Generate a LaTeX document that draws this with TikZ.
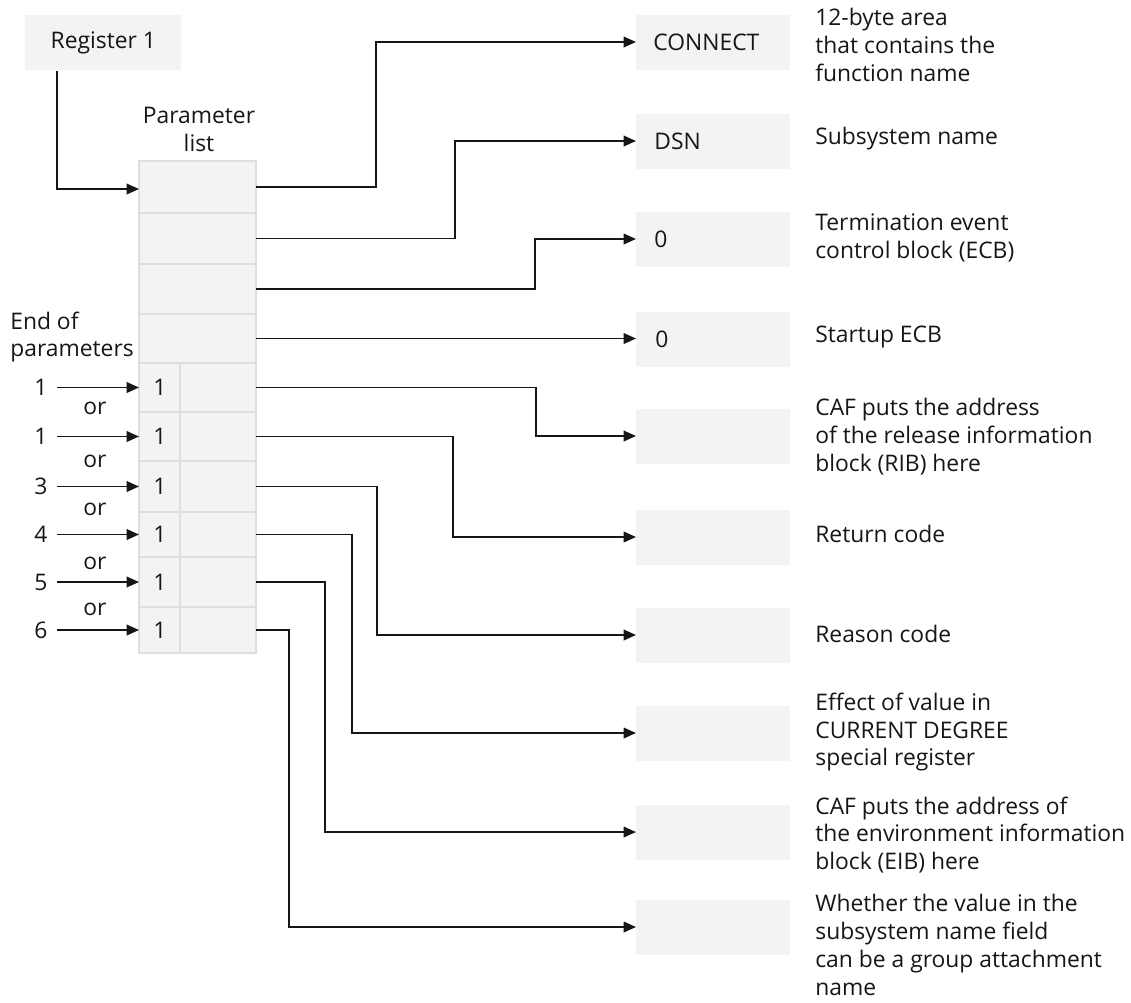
\documentclass[tikz,border=0pt]{standalone}
\usepackage{fontspec}
\setmainfont{Open Sans}
\usetikzlibrary{arrows.meta}
\definecolor{ink}{HTML}{161616}
\definecolor{boxfill}{HTML}{F3F3F3}
\definecolor{cellline}{HTML}{DEDEDE}
\begin{document}
\begin{tikzpicture}[x=0.02cm,y=-0.02cm,
  every node/.style={font=\fontsize{13}{15.9}\selectfont, text=ink},
  greybox/.style={fill=boxfill, draw=none, minimum width=154*0.02cm, minimum height=55*0.02cm, inner sep=0pt},
  cell/.style={fill=boxfill, draw=cellline, line width=0.8pt},
  arr/.style={draw=ink, line width=1pt, -{Triangle[length=7pt,width=6pt]}},
  desc/.style={anchor=west, align=left, inner sep=0pt},
  lbl/.style={inner sep=0pt}]
\useasboundingbox (0,0) rectangle (1131,1002);

% Register 1
\node[greybox, minimum width=156*0.02cm, anchor=north west] (reg) at (25,15) {Register 1};

% Parameter list title
\node[align=center, lbl] (ptitle) at (199,129) {Parameter\\list};

% Parameter list cells (full width)
\foreach \i/\t/\b in {1/161/213, 2/213/264, 3/264/314, 4/314/363}{
  \draw[cell] (139,\t) rectangle (256,\b);
  \coordinate (p\i) at (256,{(\t+\b)/2});
}
% rows with flag cell
\foreach \i/\t/\b in {5/363/412, 6/412/461, 7/461/512, 8/512/557, 9/557/607, 10/607/653}{
  \draw[cell] (139,\t) rectangle (180,\b);
  \draw[cell] (180,\t) rectangle (256,\b);
  \node[lbl] (q\i) at (160,{(\t+\b)/2}) {1};
  \coordinate (qw\i) at (139,{(\t+\b)/2});
  \coordinate (p\i) at (256,{(\t+\b)/2});
}

% Right boxes
\foreach \i/\y in {1/42, 2/141, 3/239, 4/339, 5/436, 6/537, 7/635, 8/733, 9/832, 10/927}{
  \node[greybox, anchor=west] (r\i) at (636,\y) {};
}
\node[anchor=west, inner sep=0pt] at ([xshift=17*0.02cm]r1.west) {CONNECT};
\node[anchor=west, inner sep=0pt] at ([xshift=18*0.02cm]r2.west) {DSN};
\node[anchor=west, inner sep=0pt] at ([xshift=18*0.02cm]r3.west) {0};
\node[anchor=west, inner sep=0pt] at ([xshift=19*0.02cm]r4.west) {0};

% Descriptions
\node[desc] (t1) at (815,45) {12-byte area\\that contains the\\function name};
\node[desc] (t2) at (815,139) {Subsystem name};
\node[desc] (t3) at (815,238) {Termination event\\control block (ECB)};
\node[desc] (t4) at (815,337) {Startup ECB};
\node[desc] (t5) at (815,437) {CAF puts the address\\of the release information\\block (RIB) here};
\node[desc] (t6) at (815,534) {Return code};
\node[desc] (t7) at (815,634) {Reason code};
\node[desc] (t8) at (815,732) {Effect of value in\\CURRENT DEGREE\\special register};
\node[desc] (t9) at (815,835) {CAF puts the address of\\the environment information\\block (EIB) here};
\node[desc] (t10) at (815,945) {Whether the value in the\\subsystem name field\\can be a group attachment\\name};

% Register 1 -> parameter list
\draw[arr] ([xshift=-46*0.02cm]reg.south) |- (139,189);

% connectors from parameter list
\draw[arr] (p1) -| (376,42) -- (r1.west);
\draw[arr] (p2) -| (455,141) -- (r2.west);
\draw[arr] (p3) -| (535,239) -- (r3.west);
\draw[arr] (p4) -- (p4 -| r4.west);
\draw[arr] (p5) -| (536,436) -- (r5.west);
\draw[arr] (p6) -| (453,537) -- (r6.west);
\draw[arr] (p7) -| (377,635) -- (r7.west);
\draw[arr] (p8) -| (352,733) -- (r8.west);
\draw[arr] (p9) -| (325,832) -- (r9.west);
\draw[arr] (p10) -| (289,927) -- (r10.west);

% End of parameters
\node[desc] (eop) at (10,337) {End of\\parameters};

% inputs
\foreach \i/\n in {5/1, 6/1, 7/3, 8/4, 9/5, 10/6}{
  \node[lbl, anchor=center] (n\i) at (41,0 |- qw\i) {\n};
  \draw[arr, shorten <=16*0.02cm] (n\i.center) -- (qw\i);
}
% or labels
\foreach \k/\y in {a/408, b/461, c/509, d/563, e/609}{
  \node[lbl] (or\k) at (95,\y) {or};
}
\end{tikzpicture}
\end{document}
